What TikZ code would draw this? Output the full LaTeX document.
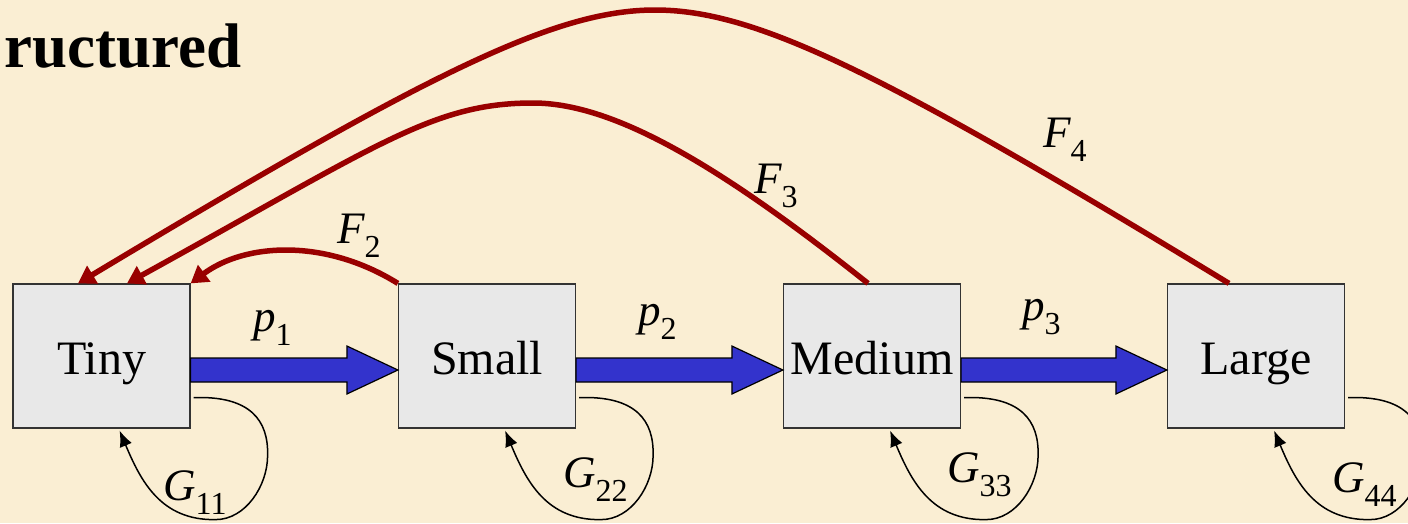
\documentclass[tikz,border=0pt]{standalone}
\usepackage{fontspec}
\setmainfont{Liberation Serif}
\usetikzlibrary{arrows.meta,calc}
\definecolor{bg}{HTML}{FAEED3}
\definecolor{boxfill}{HTML}{E8E8E8}
\definecolor{darkred}{HTML}{990000}
\definecolor{arrowblue}{HTML}{3333CC}
\newcommand\lbl[2]{{\fontsize{45}{45}\selectfont\itshape #1}\raisebox{-14pt}{\fontsize{32}{32}\selectfont #2}}
\newcommand\bigarrow[2]{\path[bluearr] let \p1=(#1.east), \p2=(#2.west) in
  (\x1,{\y1-2pt}) -- ({\x2-51pt},{\y1-2pt}) -- ({\x2-51pt},{\y1+10pt}) -- (\x2,{\y1-14pt})
  -- ({\x2-51pt},{\y1-38pt}) -- ({\x2-51pt},{\y1-26pt}) -- (\x1,{\y1-26pt}) -- cycle;}
\newcommand\selfloop[1]{\begin{scope}[shift={(#1.south east)}]
  \draw[loopline] (3,-31) .. controls (60,-33) and (78,-8) .. (77,27)
    .. controls (77,57) and (55,91) .. (25,91)
    .. controls (-30,92) and (-50,52) .. (-71,2);
  \end{scope}}
\begin{document}
\begin{tikzpicture}[x=1pt,y=-1pt,
  stage/.style={draw=black!80,line width=1.2pt,fill=boxfill,minimum width=177pt,
    minimum height=144pt,inner sep=0pt,text height=36pt,text depth=0pt,
    font=\fontsize{48}{48}\selectfont},
  fec/.style={draw=darkred,line width=5.5pt,-{Triangle[length=17pt,width=20pt]}},
  loopline/.style={draw=black,line width=1.5pt,-{Latex[length=16pt,width=13pt]}},
  lab/.style={anchor=base west,inner sep=0pt},
  bluearr/.style={fill=arrowblue,draw=black,line width=1.2pt}]
\fill[bg] (0,0) rectangle (1408,523);
\useasboundingbox (0,0) rectangle (1408,523);
\clip (0,0) rectangle (1408,523);

\node[anchor=base east,inner sep=0pt,font=\fontsize{63}{63}\selectfont\bfseries] (title) at (242,67) {ructured};

\node[stage] (tiny) at (101.5,356) {Tiny};
\node[stage] (small) at (487,356) {Small};
\node[stage] (medium) at (872,356) {Medium};
\node[stage] (large) at (1256,356) {Large};

\bigarrow{tiny}{small}
\bigarrow{small}{medium}
\bigarrow{medium}{large}

\draw[fec] ($(large.north)+(-27,0)$) .. controls (879,70.5) and (755,10) .. (655,10)
  .. controls (555,10) and (430,72) .. ($(tiny.north)+(-23.5,0)$);
\draw[fec] ($(medium.north)+(-4,0)$) .. controls (718,164) and (613,103) .. (533,103)
  .. controls (433,103) and (379,144.5) .. ($(tiny.north)+(25.5,0)$);
\draw[fec] (small.north west) .. controls (325,238) and (245,243) .. (tiny.north east);

\selfloop{tiny}
\selfloop{small}
\selfloop{medium}
\selfloop{large}

\node[lab] (f2) at (337,243) {\lbl{F}{2}};
\node[lab] (f3) at (754,193) {\lbl{F}{3}};
\node[lab] (f4) at (1043,147) {\lbl{F}{4}};
\node[lab] (p1) at (253,331) {\lbl{p}{1}};
\node[lab] (p2) at (638,325) {\lbl{p}{2}};
\node[lab] (p3) at (1022,320) {\lbl{p}{3}};
\node[lab] (g11) at (163,500) {\lbl{G}{11}};
\node[lab] (g22) at (563,487) {\lbl{G}{22}};
\node[lab] (g33) at (947,482) {\lbl{G}{33}};
\node[lab] (g44) at (1332,492) {\lbl{G}{44}};
\end{tikzpicture}
\end{document}
